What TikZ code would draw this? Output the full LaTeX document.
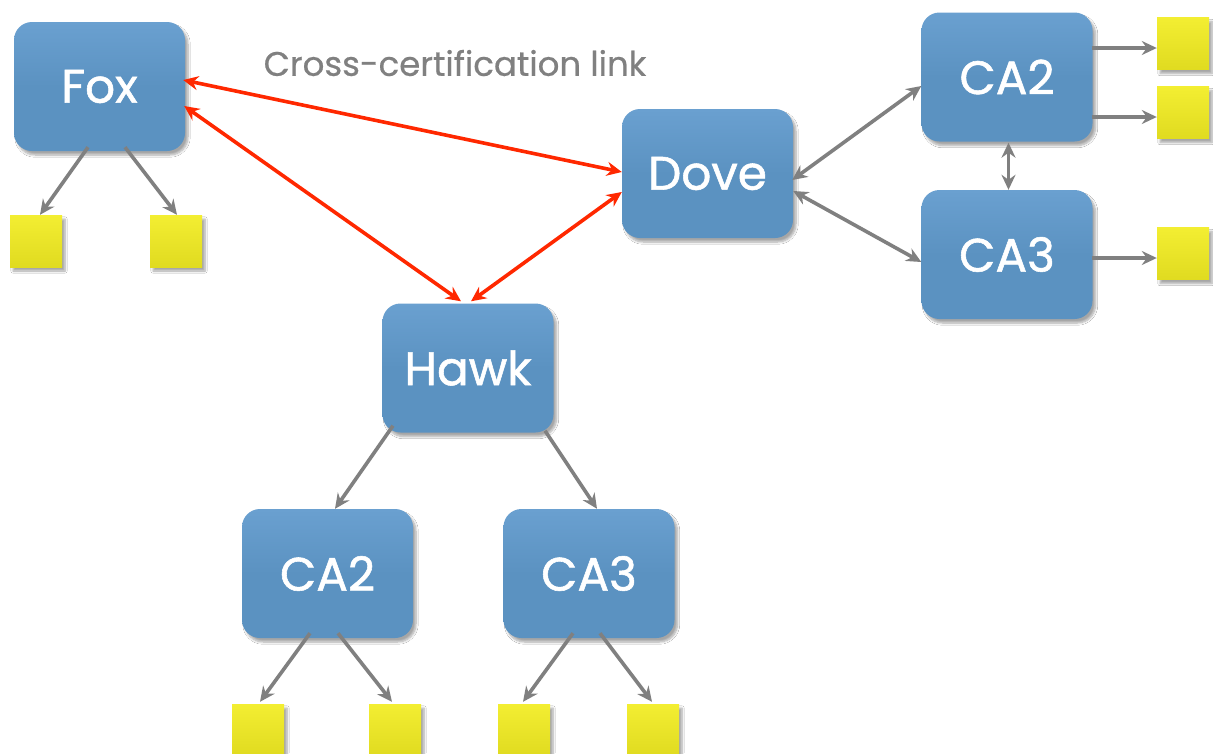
\documentclass[tikz,border=0pt]{standalone}
\usepackage{fontspec}
\setmainfont{Poppins}
\newfontfamily\boxfont{Poppins}[FakeBold=1.2]
\newfontfamily\lblfont{Poppins}[FakeBold=0.6]
\usetikzlibrary{arrows.meta,shadows.blur}
\definecolor{boxblue}{RGB}{91,146,193}
\definecolor{boxtop}{RGB}{106,160,208}
\definecolor{sqyellow}{RGB}{224,219,32}
\definecolor{sqtop}{RGB}{243,238,50}
\definecolor{redline}{RGB}{255,40,0}
\definecolor{grayline}{RGB}{128,128,128}
\tikzset{
  cabox/.style={rounded corners=18pt, top color=boxtop, bottom color=boxblue, middle color=boxblue,
    minimum width=171pt, minimum height=129pt, inner sep=0pt, text=white,
    font=\boxfont\fontsize{47}{47}\selectfont,
    blur shadow={shadow xshift=3pt, shadow yshift=-4pt, shadow opacity=35, shadow blur steps=8}},
  leaf/.style={top color=sqtop, bottom color=sqyellow, minimum width=52pt, minimum height=52pt, inner sep=0pt,
    blur shadow={shadow xshift=3pt, shadow yshift=-4pt, shadow opacity=35, shadow blur steps=6}},
  garrow/.style={draw=grayline, line width=3.6pt, -{Stealth[length=15pt,width=14pt,inset=5pt]}},
  gdarrow/.style={draw=grayline, line width=3.6pt, {Stealth[length=15pt,width=14pt,inset=5pt]}-{Stealth[length=15pt,width=14pt,inset=5pt]}},
  rarrow/.style={draw=redline, line width=3.6pt, {Stealth[length=15pt,width=14pt,inset=5pt]}-{Stealth[length=15pt,width=14pt,inset=5pt]}},
}
\begin{document}
\begin{tikzpicture}[x=1pt,y=-1pt]
\useasboundingbox (0,0) rectangle (1213,753);
\clip (0,0) rectangle (1213,753);
\fill[white] (0,0) rectangle (1213,753);

% boxes
\node[cabox] (fox)  at (99.5,86.5) {Fox};
\node[cabox] (dove) at (707.5,173.5) {Dove};
\node[cabox] (ca2r) at (1007,77) {CA2};
\node[cabox] (ca3r) at (1007,254.5) {CA3};
\node[cabox] (hawk) at (468,368) {Hawk};
\node[cabox] (ca2b) at (327.5,573.5) {CA2};
\node[cabox] (ca3b) at (589,573.5) {CA3};

% leaves
\node[leaf] (fs1) at (36,241) {};
\node[leaf] (fs2) at (176,241) {};
\node[leaf] (rs1) at (1183,43.5) {};
\node[leaf] (rs2) at (1183,112.5) {};
\node[leaf] (rs3) at (1183,253.5) {};
\node[leaf] (bs1) at (258,730) {};
\node[leaf] (bs2) at (395,730) {};
\node[leaf] (bs3) at (524,730) {};
\node[leaf] (bs4) at (653,730) {};

% label
\node[text=grayline, font=\lblfont\fontsize{34}{34}\selectfont] (lbl) at (455,63) {Cross-certification link};

% gray arrows
\draw[garrow] ([xshift=-11.5pt,yshift=4pt]fox.south) -- ([xshift=4pt]fs1.north);
\draw[garrow] ([xshift=25.5pt,yshift=4pt]fox.south) -- ([xshift=1pt]fs2.north);
\draw[gdarrow] ([xshift=-1pt,yshift=-6.5pt]dove.east) -- ([yshift=-9pt]ca2r.west);
\draw[gdarrow] ([yshift=-17.5pt]dove.east) -- ([yshift=-7.5pt]ca3r.west);
\draw[gdarrow] ([xshift=1.5pt,yshift=-1pt]ca2r.south) -- ([xshift=1.5pt]ca3r.north);
\draw[garrow] ([xshift=-1pt,yshift=29pt]ca2r.east) -- ([yshift=-4.5pt]rs1.west);
\draw[garrow] ([xshift=-1pt,yshift=-40pt]ca2r.east) -- ([yshift=-4.5pt]rs2.west);
\draw[garrow] ([xshift=-1pt,yshift=-3.5pt]ca3r.east) -- ([yshift=-4.5pt]rs3.west);
\draw[garrow] ([xshift=-75pt,yshift=7pt]hawk.south) -- ([xshift=7.5pt]ca2b.north);
\draw[garrow] ([xshift=77pt,yshift=2pt]hawk.south) -- ([xshift=8pt]ca3b.north);
\draw[garrow] ([xshift=-17.5pt,yshift=5pt]ca2b.south) -- ([xshift=2pt,yshift=2pt]bs1.north);
\draw[garrow] ([xshift=10.5pt,yshift=5pt]ca2b.south) -- ([xshift=-3pt,yshift=2pt]bs2.north);
\draw[garrow] ([xshift=-16pt,yshift=5pt]ca3b.south) -- ([xshift=-1pt,yshift=2pt]bs3.north);
\draw[garrow] ([xshift=11pt,yshift=5pt]ca3b.south) -- ([xshift=-1pt,yshift=2pt]bs4.north);

% red cross-certification links
\draw[rarrow] ([xshift=-2pt,yshift=6.5pt]fox.east) -- ([yshift=1.5pt]dove.west);
\draw[rarrow] ([xshift=-1pt,yshift=-19.5pt]fox.east) -- ([xshift=-7pt,yshift=2pt]hawk.north);
\draw[rarrow] ([yshift=-18.5pt]dove.west) -- ([xshift=3pt,yshift=2pt]hawk.north);
\end{tikzpicture}
\end{document}
